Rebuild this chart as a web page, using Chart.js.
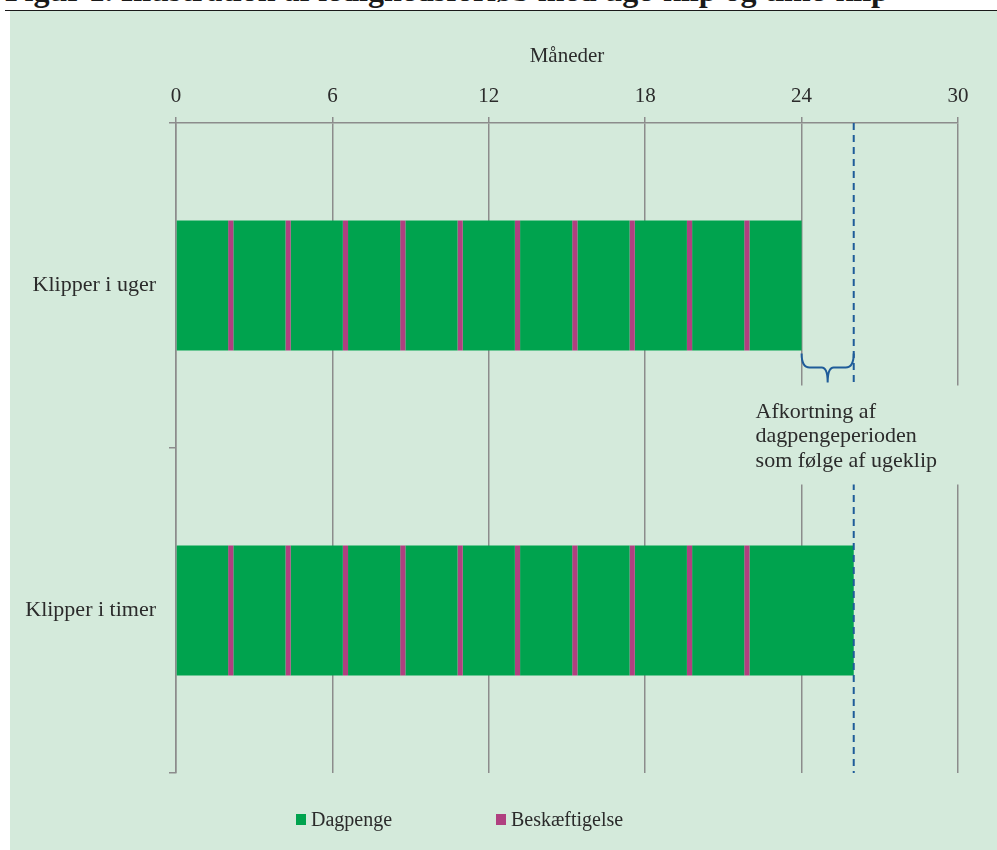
<!DOCTYPE html>
<html lang="da">
<head>
<meta charset="utf-8">
<title>Figur 1</title>
<script src="https://cdn.jsdelivr.net/npm/chart.js@4/dist/chart.umd.min.js"></script>
<style>
    html, body { margin: 0; padding: 0; background: #fff; overflow: hidden; }
    body { width: 997px; height: 850px; position: relative; font-family: 'Liberation Serif', serif; }
    #fig-title { position: absolute; left: 5px; top: -26px; font-size: 32px; line-height: 32px; font-weight: bold; color: #1a1a1a; white-space: nowrap; }
    #rule { position: absolute; left: 5px; right: 0; top: 9.5px; height: 1.5px; background: #1a1a1a; }
    #panel { position: absolute; left: 10px; top: 11px; width: 987px; height: 839px; background: #d4eadb; }
    #legend { position: absolute; left: 296px; top: 808px; display: flex; }
    .legend-item { display: flex; position: relative; height: 22px; }
    .legend-item:first-child { width: 200px; }
    .legend-box { width: 10px; height: 11px; margin-top: 6px; margin-right: 5px; }
    .legend-text { font-size: 20px; line-height: 22px; color: #2b2b2b; }
</style>
</head>
<body>
<div id="fig-title">Figur 1. Illustration af ledighedsforløb med uge-klip og time-klip</div>
<div id="rule"></div>
<div id="panel"><canvas id="chart"></canvas></div>
<div id="legend"></div>

<script>
// Ledighedsforløb: dagpenge afbrudt af korte perioder med beskæftigelse

const categories = ['Klipper i uger', 'Klipper i timer'];
const monthTicks = [0, 6, 12, 18, 24, 30];

// segment lengths in months, left to right
const dagpengeUger  = [2, 2, 2, 2, 2, 2, 2, 2, 2, 2, 2];
const dagpengeTimer = [2, 2, 2, 2, 2, 2, 2, 2, 2, 2, 4];
const beskUger  = [0.2, 0.2, 0.2, 0.2, 0.2, 0.2, 0.2, 0.2, 0.2, 0.2];
const beskTimer = [0.2, 0.2, 0.2, 0.2, 0.2, 0.2, 0.2, 0.2, 0.2, 0.2];

const noteLines = ['Afkortning af', 'dagpengeperioden', 'som følge af ugeklip'];

const GREEN = '#00a34e';
const MAGENTA = '#b04080';
const BG = '#d4eadb';
const GRID = '#8c8c8c';
const BLUE = '#1f5c99';
const TEXT = '#2b2b2b';
const FONT = "'Liberation Serif', serif";

const legendItems = [
    { label: 'Dagpenge', color: GREEN },
    { label: 'Beskæftigelse', color: MAGENTA },
];

function sum(arr) {
    return arr.reduce((a, b) => a + b, 0);
}

// interleave: dagpenge, beskæftigelse, dagpenge, ...
const datasets = [];
dagpengeUger.forEach((v, i) => {
    datasets.push({
        label: 'Dagpenge',
        data: [v, dagpengeTimer[i]],
        backgroundColor: GREEN,
        borderWidth: 0,
    });
    if (i < beskUger.length) {
        datasets.push({
            label: 'Beskæftigelse',
            data: [beskUger[i], beskTimer[i]],
            backgroundColor: MAGENTA,
            borderWidth: 0,
        });
    }
});

// brace + dashed line + text box for the shortening
const afkortningPlugin = {
    id: 'afkortning',
    afterDatasetsDraw(chart) {
        const { ctx, chartArea, scales: { x } } = chart;
        const cutStart = sum(dagpengeUger) + sum(beskUger);
        const cutEnd = sum(dagpengeTimer) + sum(beskTimer);
        const x0 = x.getPixelForValue(cutStart);
        const x1 = x.getPixelForValue(cutEnd);
        const xm = (x0 + x1) / 2;
        const bar = chart.getDatasetMeta(0).data[0];
        const barBottom = bar.y + bar.height / 2;

        ctx.save();

        // dashed line at end of the time-klip period
        ctx.strokeStyle = BLUE;
        ctx.lineWidth = 2;
        ctx.setLineDash([7, 5]);
        ctx.beginPath();
        ctx.moveTo(x1, chartArea.top);
        ctx.lineTo(x1, chartArea.bottom);
        ctx.stroke();
        ctx.setLineDash([]);

        // curly brace
        const yTop = barBottom + 3;
        const yMid = yTop + 14;
        const yTip = yTop + 29;
        ctx.lineWidth = 2;
        ctx.beginPath();
        ctx.moveTo(x0, yTop);
        ctx.quadraticCurveTo(x0, yMid, x0 + 8, yMid);
        ctx.lineTo(xm - 6, yMid);
        ctx.quadraticCurveTo(xm, yMid, xm, yTip);
        ctx.moveTo(x1, yTop);
        ctx.quadraticCurveTo(x1, yMid, x1 - 8, yMid);
        ctx.lineTo(xm + 6, yMid);
        ctx.quadraticCurveTo(xm, yMid, xm, yTip);
        ctx.stroke();

        // text box
        const boxLeft = x0 - 66;
        const boxTop = yTip + 3;
        ctx.fillStyle = BG;
        ctx.fillRect(boxLeft, boxTop, x.getPixelForValue(30) + 8 - boxLeft, 99);

        ctx.fillStyle = TEXT;
        ctx.font = '22px ' + FONT;
        ctx.textAlign = 'left';
        ctx.textBaseline = 'alphabetic';
        noteLines.forEach((line, i) => {
            ctx.fillText(line, boxLeft + 20, boxTop + 32 + i * 24.7);
        });

        ctx.restore();
    }
};

const ctx = document.getElementById('chart').getContext('2d');

new Chart(ctx, {
    type: 'bar',
    data: {
        labels: categories,
        datasets: datasets,
    },
    options: {
        indexAxis: 'y',
        responsive: true,
        maintainAspectRatio: false,
        animation: false,
        layout: { padding: { left: 0, right: 39, top: 0, bottom: 77 } },
        datasets: {
            bar: { categoryPercentage: 1, barPercentage: 0.4 }
        },
        plugins: {
            legend: { display: false },
            tooltip: { enabled: false },
        },
        scales: {
            x: {
                position: 'top',
                stacked: true,
                min: 0,
                max: 30,
                afterBuildTicks: scale => { scale.ticks = monthTicks.map(v => ({ value: v })); },
                afterFit: scale => { scale.height = 112; },
                grid: { color: GRID, lineWidth: 1.5, tickLength: 6, tickColor: GRID },
                border: { display: true, color: GRID, width: 1.5 },
                ticks: { color: TEXT, padding: 8, font: { family: FONT, size: 21 } },
                title: {
                    display: true,
                    text: 'Måneder',
                    color: TEXT,
                    padding: { top: 33, bottom: 0 },
                    font: { family: FONT, size: 21 },
                },
            },
            y: {
                stacked: true,
                afterFit: scale => { scale.width = 166; },
                grid: { offset: true, drawOnChartArea: false, tickLength: 7, color: GRID, lineWidth: 1.5 },
                border: { display: true, color: GRID, width: 1.5 },
                ticks: { color: TEXT, padding: 13, font: { family: FONT, size: 22 } },
            },
        },
    },
    plugins: [afkortningPlugin],
});

// legend
document.getElementById('legend').innerHTML = legendItems.map(item => `
    <div class="legend-item">
        <div class="legend-box" style="background:${item.color}"></div>
        <span class="legend-text">${item.label}</span>
    </div>
`).join('');
</script>
</body>
</html>
